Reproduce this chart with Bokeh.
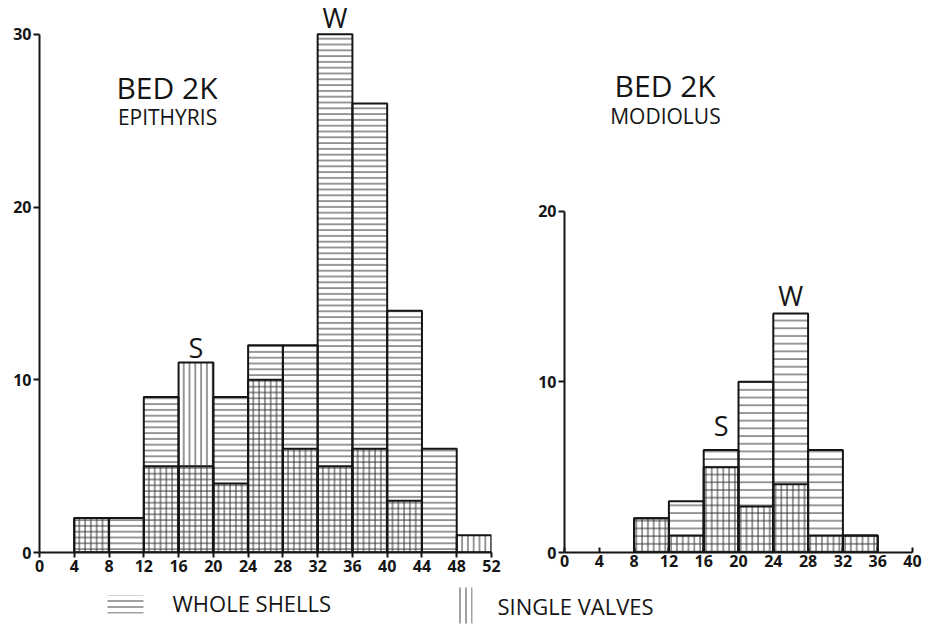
from bokeh.plotting import figure
from bokeh.layouts import column, row
from bokeh.models import Range1d, FixedTicker, Label
from bokeh.embed import file_html
from bokeh.resources import INLINE
from bokeh.core.properties import value

# ---------------- data ----------------
BIN_W = 4
epi_bin_start = [4, 8, 12, 16, 20, 24, 28, 32, 36, 40, 44, 48]
epi_whole = [2, 2, 9, 5, 9, 12, 12, 30, 26, 14, 6, 0]
epi_single = [2, 0, 5, 11, 4, 10, 6, 5, 6, 3, 0, 1]

mod_bin_start = [8, 12, 16, 20, 24, 28, 32]
mod_whole = [2, 3, 6, 10, 14, 6, 1]
mod_single = [2, 1, 5, 2.7, 4, 1, 1]

epi_xticks = list(range(0, 53, 4))
mod_xticks = list(range(0, 41, 4))
epi_yticks = [0, 10, 20, 30]
mod_yticks = [0, 10, 20]

FONT = "Open Sans"
INK = "#151515"


def panel(width, height, xmax, ytop, ymax, borders, xticks, yticks,
          starts, whole, single, hscale_h, hscale_v, offs, xtick_in):
    bl, br, bt, bb = borders
    p = figure(width=width, height=height, output_backend="svg",
               toolbar_location=None,
               x_range=Range1d(0, xmax), y_range=Range1d(0, ytop),
               min_border_left=bl, min_border_right=br,
               min_border_top=bt, min_border_bottom=bb)
    p.outline_line_color = None
    p.xgrid.visible = False
    p.ygrid.visible = False
    p.background_fill_color = "white"
    p.border_fill_color = "white"

    for ax, ticks, bound in ((p.xaxis[0], xticks, (0, xmax)), (p.yaxis[0], yticks, (0, ymax))):
        ax.ticker = FixedTicker(ticks=ticks)
        ax.bounds = bound
        ax.axis_line_width = 2
        ax.axis_line_color = INK
        ax.major_tick_line_width = 2
        ax.major_tick_line_color = INK
        ax.minor_tick_line_color = None
        ax.major_label_text_font = FONT
        ax.major_label_text_font_size = "16px"
        ax.major_label_text_font_style = "bold"
        ax.major_label_text_color = INK
        ax.major_label_standoff = 2
    p.yaxis[0].major_tick_out = 6
    p.yaxis[0].major_tick_in = 0
    p.xaxis[0].major_tick_out = 0 if xtick_in else 5
    p.xaxis[0].major_tick_in = 5 if xtick_in else 0

    lefts = starts
    rights = [s + BIN_W for s in starts]
    p.quad(left=lefts, right=rights, bottom=0, top=whole,
           fill_color=None, line_color=INK, line_width=2,
           hatch_pattern="horizontal_line", hatch_scale=hscale_h,
           hatch_weight=1, hatch_color="#333333")
    p.quad(left=lefts, right=rights, bottom=0, top=single,
           fill_color=None, line_color=INK, line_width=2,
           hatch_pattern="vertical_line", hatch_scale=hscale_v,
           hatch_weight=1, hatch_color="#333333")

    # mode labels
    iw = whole.index(max(whole))
    isg = single.index(max(single))
    for idx, txt, off in ((iw, "W", offs[0]), (isg, "S", offs[1])):
        p.text(x=[starts[idx] + BIN_W / 2], y=[max(whole[idx], single[idx])],
               text=[txt], text_align="center", text_baseline="alphabetic",
               y_offset=-off, text_font=value(FONT), text_font_size="27px",
               text_color=INK)
    return p


def title(p, x, y, txt, size):
    p.add_layout(Label(x=x, y=y, text=txt, text_align="center",
                       text_baseline="alphabetic", text_font=FONT,
                       text_font_size=size, text_color=INK))


p1 = panel(528, 585, 52, 31.96, 30, (39, 37, 0, 33), epi_xticks, epi_yticks,
           epi_bin_start, epi_whole, epi_single, 5.8, 5.8, (17, 15), False)
title(p1, 14.67, 26.9, "BED 2K", "30px")
title(p1, 14.73, 25.23, "EPITHYRIS", "21px")

p2 = panel(400, 585, 40, 32.33, 20, (36, 16, 0, 30), mod_xticks, mod_yticks,
           mod_bin_start, mod_whole, mod_single, 7.7, 5.8, (18, 25), True)
title(p2, 11.57, 27.34, "BED 2K", "30px")
title(p2, 11.6, 25.56, "MODIOLUS", "21px")

# ---------------- legend strip ----------------
p3 = figure(width=928, height=39, output_backend="svg", toolbar_location=None,
            x_range=Range1d(0, 928), y_range=Range1d(0, 39),
            min_border_left=0, min_border_right=0, min_border_top=0,
            min_border_bottom=0)
p3.axis.visible = False
p3.xgrid.visible = False
p3.ygrid.visible = False
p3.outline_line_color = None
p3.quad(left=[107], right=[143], bottom=[11], top=[29], fill_color=None,
        line_color=None, hatch_pattern="horizontal_line", hatch_scale=6,
        hatch_weight=1, hatch_color="#444444")
p3.quad(left=[455], right=[472], bottom=[1], top=[37], fill_color=None,
        line_color=None, hatch_pattern="vertical_line", hatch_scale=6,
        hatch_weight=1, hatch_color="#444444")
p3.text(x=[172], y=[21.5], text=["WHOLE SHELLS"], text_baseline="alphabetic",
        text_font=value(FONT), text_font_size="22px", text_color=INK)
p3.text(x=[497], y=[18.5], text=["SINGLE VALVES"], text_baseline="alphabetic",
        text_font=value(FONT), text_font_size="22px", text_color=INK)

layout = column(row(p1, p2), p3)
open("out.html", "w").write(file_html(layout, INLINE))
